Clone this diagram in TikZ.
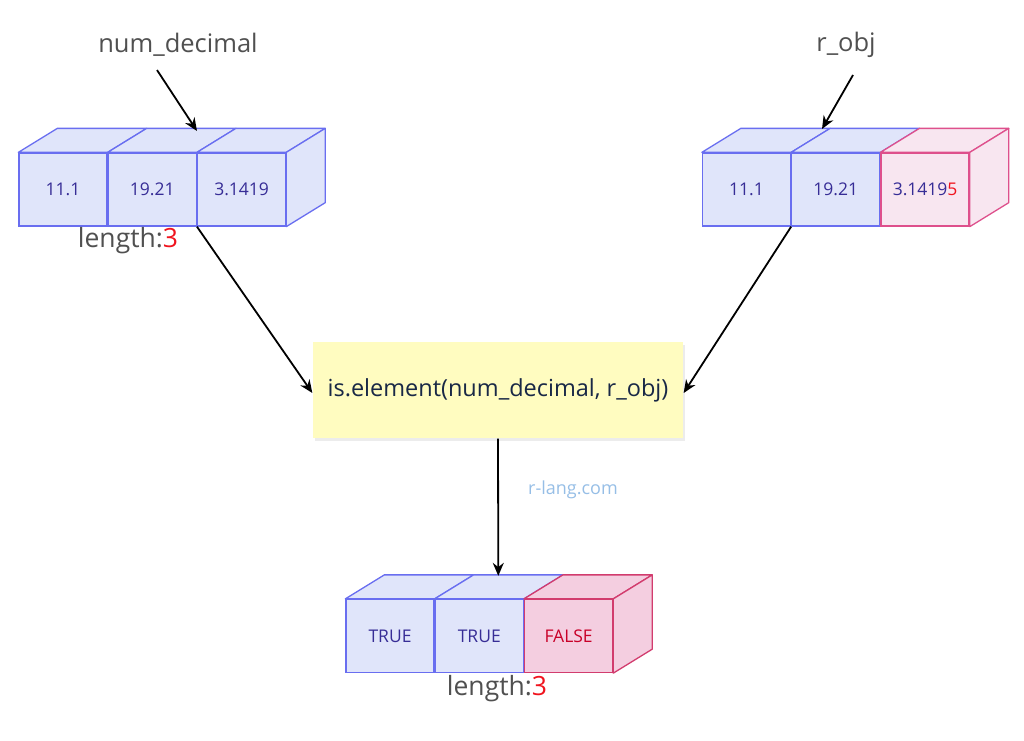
\documentclass[tikz,border=0pt]{standalone}
\usepackage{fontspec}
\setmainfont{Open Sans}
\usetikzlibrary{positioning, arrows.meta, shadows}

\definecolor{cellfill}{RGB}{224,229,250}
\definecolor{celldraw}{RGB}{105,110,240}
\definecolor{celltext}{RGB}{55,45,150}
\definecolor{pinkfill}{RGB}{248,230,240}
\definecolor{pinkdraw}{RGB}{222,80,140}
\definecolor{falsefill}{RGB}{244,206,224}
\definecolor{falsedraw}{RGB}{210,60,110}
\definecolor{falsetext}{RGB}{200,0,40}
\definecolor{funcfill}{RGB}{255,252,192}
\definecolor{functext}{RGB}{25,40,70}
\definecolor{labeltext}{RGB}{80,80,80}
\definecolor{lenred}{RGB}{240,20,30}
\definecolor{marktext}{RGB}{150,190,230}

% top and side faces of a cell
\newcommand{\celltop}[2]{%
  \path[#2] (#1.north west) -- ([shift={(39,-24)}]#1.north west)
    -- ([shift={(39,-24)}]#1.north east) -- (#1.north east) -- cycle;}
\newcommand{\cellside}[2]{%
  \path[#2] (#1.north east) -- ([shift={(39,-24)}]#1.north east)
    -- ([shift={(39,-24)}]#1.south east) -- (#1.south east) -- cycle;}

\begin{document}
\begin{tikzpicture}[x=1pt, y=-1pt, line width=1.3pt]
    \useasboundingbox (0,0) rectangle (1024,740);
    \tikzstyle{cell}=[
        draw = celldraw,
        fill = cellfill,
        text = celltext,
        minimum width = 88pt,
        minimum height = 73pt,
        inner sep = 0pt,
        font = \fontsize{17.5}{20}\selectfont
    ]
    \tikzstyle{bluefaces}=[draw=celldraw, fill=cellfill, line join=round]
    \tikzstyle{pinkfaces}=[draw=pinkdraw, fill=pinkfill, line join=round]
    \tikzstyle{falsefaces}=[draw=falsedraw, fill=falsefill, line join=round]
    \tikzstyle{varname}=[text=labeltext, font=\fontsize{25.5}{30}\selectfont]
    \tikzstyle{arrow}=[-{Stealth[length=13pt, width=11pt]}, black, line width=1.8pt]

    \begin{scope}[node distance=0pt, every node/.style=cell]
      \node (l1) at (63,189.5) {11.1};
      \node (l2) [right=of l1] {19.21};
      \node (l3) [right=of l2] {3.1419};
      \node (r1) at (746.5,189.5) {11.1};
      \node (r2) [right=of r1] {19.21};
      \node (r3) [right=of r2, draw=pinkdraw, fill=pinkfill] {3.1419\textcolor{lenred}{5}};
      \node (o1) at (390,636) {TRUE};
      \node (o2) [right=of o1] {TRUE};
      \node (o3) [right=of o2, draw=falsedraw, fill=falsefill, text=falsetext] {FALSE};
    \end{scope}
    \celltop{l1}{bluefaces} \celltop{l2}{bluefaces} \celltop{l3}{bluefaces}
    \cellside{l3}{bluefaces}
    \celltop{r1}{bluefaces} \celltop{r2}{bluefaces} \celltop{r3}{pinkfaces}
    \cellside{r3}{pinkfaces}
    \celltop{o1}{bluefaces} \celltop{o2}{bluefaces} \celltop{o3}{falsefaces}
    \cellside{o3}{falsefaces}

    \node[varname] (numdec) at (178,45) {num\_decimal};
    \node[varname] (robj) at (846,45) {r\_obj};
    \node[varname, font=\fontsize{26.5}{30}\selectfont] (llen) at (128,241) {length:\textcolor{lenred}{3}};
    \node[varname, font=\fontsize{26.5}{30}\selectfont] (olen) at (497,689) {length:\textcolor{lenred}{3}};

    \node[fill=funcfill, text=functext, minimum width=370pt, minimum height=96pt,
          drop shadow={opacity=0.15, shadow xshift=2pt, shadow yshift=-3pt},
          font=\fontsize{23.5}{28}\selectfont] (func) at (498,390) {is.element(num\_decimal, r\_obj)};
    \node[text=marktext, font=\fontsize{18}{22}\selectfont] (mark) at (573,490) {r-lang.com};

    \coordinate (ltip) at (197,131);
    \coordinate (rtip) at (822,129);
    \coordinate (lfrom) at (157,70);
    \coordinate (rfrom) at (853,75);
    \draw[arrow] (lfrom) -- (ltip);
    \draw[arrow] (rfrom) -- (rtip);
    \draw[arrow] (l2.south east) -- ([yshift=-3pt]func.west);
    \draw[arrow] (r1.south east) -- ([yshift=-3pt]func.east);
    \draw[arrow] (func.south) -- ([shift={(19,-23)}]o2.north);
\end{tikzpicture}
\end{document}
